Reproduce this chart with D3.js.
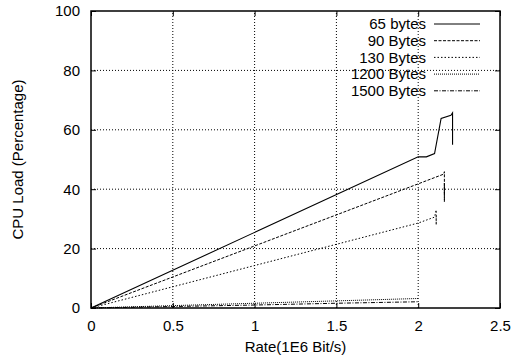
<!DOCTYPE html>
<html>
<head>
<meta charset="utf-8">
<script src="https://cdn.jsdelivr.net/npm/d3@7"></script>
<style>
  body { margin: 0; background: #fff; }
  text { font-family: "Liberation Sans", Arial, sans-serif; font-size: 15px; fill: #000; }
</style>
</head>
<body>
<svg id="chart" width="523" height="362"></svg>
<script>
// data
var seriesNames = ["65 bytes", "90 Bytes", "130 Bytes", "1200 Bytes", "1500 Bytes"];
var s65 = [[0,0],[2.0,50.9],[2.05,50.9],[2.1,52],[2.14,63.8],[2.2,64.9],[2.21,65.7],[2.21,55],[2.21,62],[2.21,58]];
var s90 = [[0,0],[2.0,41.8],[2.157,45.1],[2.16,45.9],[2.16,35.8],[2.16,42],[2.16,38]];
var s130 = [[0,0],[2.0,28.6],[2.1,30.6],[2.11,33],[2.11,28],[2.11,31]];
var s1200 = [[0,0],[0.5,0.8],[1.0,1.6],[1.5,2.4],[2.0,3.2]];
var s1500 = [[0,0],[0.5,0.5],[1.0,1.0],[1.5,1.6],[2.0,2.1]];
var xTicks = [0, 0.5, 1, 1.5, 2, 2.5];
var yTicks = [0, 20, 40, 60, 80, 100];

var allSeries = [s65, s90, s130, s1200, s1500];
var dashes = [null, "3,1.5", "1.5,2", "1,1", "4,1.5,1,1.5"];

var svg = d3.select("#chart");
var pl = 91, pr = 500, pt = 11, pb = 308;

var x = d3.scaleLinear().domain([0, 2.5]).range([pl, pr]);
var y = d3.scaleLinear().domain([0, 100]).range([pb, pt]);

// grid
var grid = svg.append("g");
grid.selectAll(".gx").data(xTicks.slice(1, -1)).enter().append("line")
  .attr("x1", function(d) { return x(d); })
  .attr("x2", function(d) { return x(d); })
  .attr("y1", pb).attr("y2", pt)
  .attr("stroke", "#000").attr("stroke-width", 1)
  .attr("stroke-dasharray", "1,2");
grid.selectAll(".gy").data(yTicks.slice(1, -1)).enter().append("line")
  .attr("y1", function(d) { return y(d); })
  .attr("y2", function(d) { return y(d); })
  .attr("x1", pl).attr("x2", pr)
  .attr("stroke", "#000").attr("stroke-width", 1)
  .attr("stroke-dasharray", "1,2");

// axes, ticks inside and mirrored
var xAxis = d3.axisBottom(x).tickValues(xTicks).tickSize(-5).tickPadding(12)
  .tickFormat(function(d) { return d; });
var yAxis = d3.axisLeft(y).tickValues(yTicks).tickSize(-5).tickPadding(11);

svg.append("g").attr("transform", "translate(0," + pb + ")").call(xAxis);
svg.append("g").attr("transform", "translate(" + pl + ",0)").call(yAxis);
svg.append("g").attr("transform", "translate(0," + pt + ")")
  .call(d3.axisTop(x).tickValues(xTicks).tickSize(-5).tickFormat(""));
svg.append("g").attr("transform", "translate(" + pr + ",0)")
  .call(d3.axisRight(y).tickValues(yTicks).tickSize(-5).tickFormat(""));

svg.selectAll(".domain").remove();
svg.selectAll(".tick line").attr("stroke", "#000");
svg.selectAll(".tick text").style("font-size", "15px")
  .style("font-family", "Liberation Sans, Arial, sans-serif");

svg.append("rect")
  .attr("x", pl).attr("y", pt)
  .attr("width", pr - pl).attr("height", pb - pt)
  .attr("fill", "none").attr("stroke", "#000").attr("stroke-width", 1.5);

// lines
var line = d3.line()
  .x(function(d) { return x(d[0]); })
  .y(function(d) { return y(d[1]); });

svg.selectAll(".series").data(allSeries).enter().append("path")
  .attr("d", line)
  .attr("fill", "none")
  .attr("stroke", "#000")
  .attr("stroke-width", function(d, i) { return i == 0 ? 1.1 : 1; })
  .attr("stroke-dasharray", function(d, i) { return dashes[i]; });

// legend
var legend = svg.append("g");
seriesNames.forEach(function(name, i) {
  var ly = 24 + i * 16.7;
  legend.append("text")
    .attr("x", 426).attr("y", ly).attr("dy", "0.35em")
    .attr("text-anchor", "end")
    .text(name);
  legend.append("line")
    .attr("x1", 434).attr("x2", 480)
    .attr("y1", ly).attr("y2", ly)
    .attr("stroke", "#000").attr("stroke-width", 1)
    .attr("stroke-dasharray", dashes[i]);
});

// axis titles
svg.append("text")
  .attr("x", (pl + pr) / 2).attr("y", 352)
  .attr("text-anchor", "middle")
  .text("Rate(1E6 Bit/s)");
svg.append("text")
  .attr("transform", "translate(23," + (pt + pb) / 2 + ") rotate(-90)")
  .attr("text-anchor", "middle")
  .text("CPU Load (Percentage)");
</script>
</body>
</html>
